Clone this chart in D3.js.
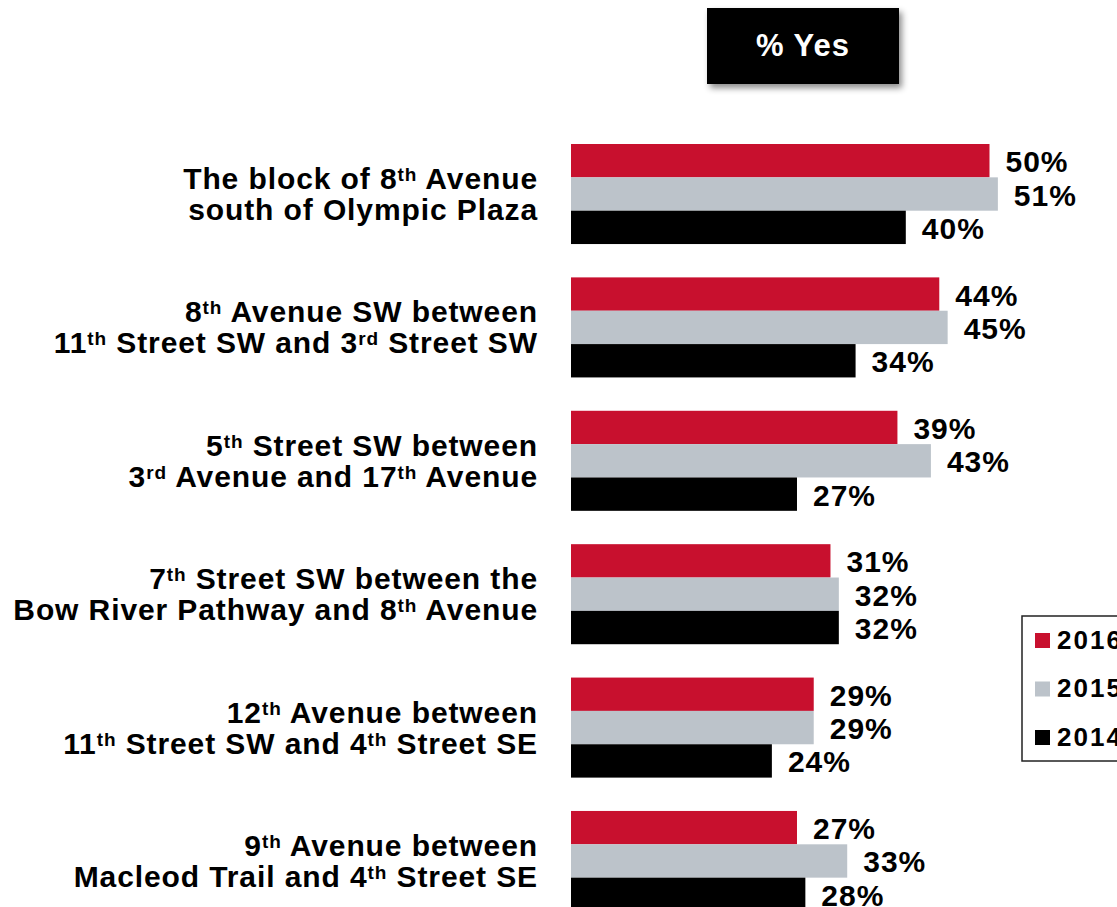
<!DOCTYPE html>
<html>
<head>
<meta charset="utf-8">
<script src="https://cdn.jsdelivr.net/npm/d3@7"></script>
<style>
  html, body { margin: 0; padding: 0; background: #fff; }
  svg { display: block; font-family: 'Liberation Sans', Arial, sans-serif; font-weight: bold; }
</style>
</head>
<body>
<div id="chart"></div>
<script>
const categories = [
  ['The block of 8th Avenue', 'south of Olympic Plaza'],
  ['8th Avenue SW between', '11th Street SW and 3rd Street SW'],
  ['5th Street SW between', '3rd Avenue and 17th Avenue'],
  ['7th Street SW between the', 'Bow River Pathway and 8th Avenue'],
  ['12th Avenue between', '11th Street SW and 4th Street SE'],
  ['9th Avenue between', 'Macleod Trail and 4th Street SE'],
];
const years = ['2016', '2015', '2014'];
const values2016 = [50, 44, 39, 31, 29, 27];
const values2015 = [51, 45, 43, 32, 29, 33];
const values2014 = [40, 34, 27, 32, 24, 28];
const colors = ['#c8102e', '#bcc3ca', '#000000'];

const w = 1117;
const h = 907;

const svg = d3.select('#chart').append('svg').attr('width', w).attr('height', h);

const defs = svg.append('defs');
const shadow = defs.append('filter').attr('id', 'shadow').attr('x', '-10%').attr('y', '-10%').attr('width', '130%').attr('height', '140%');
shadow.append('feDropShadow').attr('dx', 3).attr('dy', 4).attr('stdDeviation', 3).attr('flood-color', '#000').attr('flood-opacity', 0.45);

// header box
svg.append('rect')
  .attr('x', 707).attr('y', 8).attr('width', 192).attr('height', 76)
  .attr('fill', '#050505')
  .attr('filter', 'url(#shadow)');
svg.append('text')
  .attr('x', 803).attr('y', 45).attr('dy', '0.35em')
  .attr('text-anchor', 'middle')
  .attr('fill', '#fff')
  .attr('font-size', 31)
  .attr('letter-spacing', 1)
  .text('% Yes');

const rows = categories.map((c, i) => ({
  key: i,
  label: c,
  vals: [values2016[i], values2015[i], values2014[i]],
}));

const x = d3.scaleLinear().domain([0, 60]).range([571, 571 + 502.2]);
const y = d3.scaleBand().domain(rows.map((d) => d.key)).range([144, 911]).paddingInner(0.25).paddingOuter(0);
const ySub = d3.scaleBand().domain(years).range([0, y.bandwidth()]);

const groups = svg.append('g').selectAll('g').data(rows).join('g')
  .attr('transform', (d) => `translate(0,${y(d.key)})`);

groups.selectAll('rect')
  .data((d) => d.vals.map((v, j) => ({ v, year: years[j], color: colors[j] })))
  .join('rect')
  .attr('x', x(0))
  .attr('y', (d) => ySub(d.year))
  .attr('width', (d) => x(d.v) - x(0))
  .attr('height', ySub.bandwidth())
  .attr('fill', (d) => d.color);

groups.selectAll('text.val')
  .data((d) => d.vals.map((v, j) => ({ v, year: years[j] })))
  .join('text')
  .attr('class', 'val')
  .attr('x', (d) => x(d.v) + 16)
  .attr('y', (d) => ySub(d.year) + ySub.bandwidth() / 2 + 1)
  .attr('dy', '0.35em')
  .attr('font-size', 30)
  .attr('letter-spacing', 1)
  .attr('fill', '#000')
  .text((d) => d.v + '%');

// category labels, with ordinal suffixes as superscripts
function addLine(sel, str) {
  const parts = str.split(/(\d+)(st|nd|rd|th)\b/);
  for (let k = 0; k < parts.length; k++) {
    const p = parts[k];
    if (!p) continue;
    if (k % 3 === 2) {
      sel.append('tspan').attr('font-size', 19).attr('baseline-shift', '40%').text(p);
    } else {
      sel.append('tspan').text(p);
    }
  }
}

groups.each(function (d) {
  const g = d3.select(this);
  const mid = y.bandwidth() / 2;
  d.label.forEach((line, li) => {
    const t = g.append('text')
      .attr('x', 538)
      .attr('y', mid + (li - 0.5) * 31)
      .attr('dy', '0.35em')
      .attr('text-anchor', 'end')
      .attr('font-size', 30)
      .attr('letter-spacing', 0.9)
      .attr('fill', '#000');
    addLine(t, line);
  });
});

// legend
const legend = svg.append('g');
legend.append('rect')
  .attr('x', 1022).attr('y', 616).attr('width', 140).attr('height', 145)
  .attr('fill', '#fff').attr('stroke', '#222').attr('stroke-width', 1.5);
const legendY = d3.scalePoint().domain(years).range([641, 738]);
legend.selectAll('rect.key').data(years).join('rect')
  .attr('class', 'key')
  .attr('x', 1035).attr('y', (d) => legendY(d) - 8)
  .attr('width', 15).attr('height', 15)
  .attr('fill', (d, i) => colors[i]);
legend.selectAll('text').data(years).join('text')
  .attr('x', 1057).attr('y', (d) => legendY(d))
  .attr('dy', '0.3em')
  .attr('font-size', 26)
  .attr('letter-spacing', 2)
  .attr('fill', '#000')
  .text((d) => d);
</script>
</body>
</html>
